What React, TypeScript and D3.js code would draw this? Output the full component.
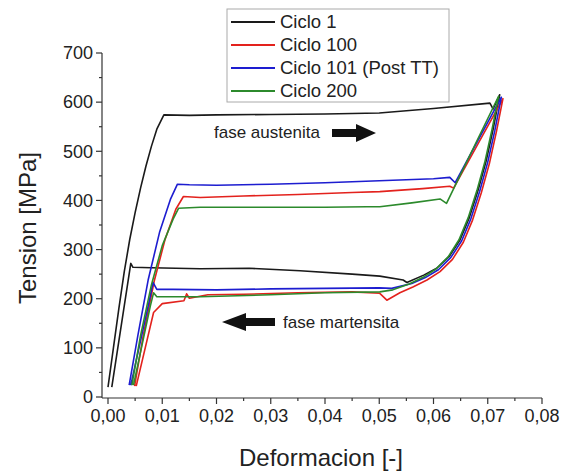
import React from "react";
import * as d3 from "d3";

type Pt = [number, number];

const seriesNames = ["Ciclo 1", "Ciclo 100", "Ciclo 101 (Post TT)", "Ciclo 200"];
const seriesColors = ["#1a1a1a", "#e3221d", "#1d1dd0", "#2c8a2c"];

const xTicks = [0, 0.01, 0.02, 0.03, 0.04, 0.05, 0.06, 0.07, 0.08];
const yTicks = [0, 100, 200, 300, 400, 500, 600, 700];

// Ciclo 1 (black): [strain, stress MPa]
const ciclo1: Pt[] = [
  [0.0, 20], [0.001, 100], [0.002, 180], [0.003, 255], [0.004, 320], [0.005, 375],
  [0.006, 425], [0.007, 470], [0.008, 510], [0.009, 545], [0.0103, 574],
  [0.015, 573], [0.02, 574], [0.03, 575], [0.04, 576], [0.05, 578], [0.06, 587],
  [0.0704, 598], [0.071, 586], [0.0722, 615],
  [0.071, 545], [0.0697, 480], [0.0682, 420], [0.0666, 365], [0.0649, 320],
  [0.0629, 286], [0.0606, 262], [0.0582, 248], [0.0551, 233],
  [0.0544, 238], [0.0501, 246], [0.045, 250], [0.0354, 257], [0.026, 262],
  [0.017, 261], [0.008, 263], [0.0046, 264], [0.0042, 272], [0.0007, 20],
];

// Ciclo 100 (red)
const ciclo100: Pt[] = [
  [0.0049, 22], [0.0065, 125], [0.0085, 235], [0.0105, 320], [0.0125, 382], [0.0139, 408],
  [0.017, 406], [0.025, 409], [0.035, 412], [0.045, 416], [0.0501, 418], [0.058, 424],
  [0.063, 429], [0.0637, 425], [0.0728, 607],
  [0.0716, 540], [0.0703, 475], [0.0688, 415], [0.0672, 360], [0.0655, 315], [0.0635, 280],
  [0.0612, 255], [0.0588, 238], [0.0562, 224], [0.0538, 212], [0.0514, 197],
  [0.0501, 211], [0.045, 214], [0.035, 212], [0.025, 209], [0.0184, 208], [0.015, 201],
  [0.0145, 210], [0.014, 196], [0.01, 190], [0.0084, 172], [0.0052, 22],
];

// Ciclo 101 (Post TT) (blue)
const ciclo101: Pt[] = [
  [0.0039, 24], [0.0055, 125], [0.0074, 238], [0.0095, 335], [0.0115, 402], [0.0128, 433],
  [0.015, 432], [0.02, 431], [0.03, 433], [0.04, 436], [0.05, 440], [0.06, 444],
  [0.063, 447], [0.064, 436], [0.0725, 610],
  [0.0713, 542], [0.07, 478], [0.0685, 418], [0.0669, 363], [0.0652, 318], [0.0632, 284],
  [0.0609, 259], [0.0585, 243], [0.056, 231], [0.0523, 221],
  [0.05, 222], [0.04, 221], [0.03, 220], [0.02, 218], [0.012, 219], [0.009, 219],
  [0.0083, 233], [0.0075, 190], [0.0042, 24],
];

// Ciclo 200 (green)
const ciclo200: Pt[] = [
  [0.0044, 24], [0.006, 125], [0.008, 228], [0.01, 308], [0.012, 362], [0.013, 384],
  [0.017, 386], [0.03, 386], [0.04, 386], [0.0477, 387], [0.0501, 387], [0.056, 395],
  [0.0612, 403], [0.0624, 394], [0.072, 612],
  [0.0708, 545], [0.0695, 480], [0.068, 420], [0.0664, 365], [0.0647, 320], [0.0627, 285],
  [0.0604, 260], [0.058, 243], [0.0555, 230], [0.0525, 218],
  [0.0501, 214], [0.04, 212], [0.03, 208], [0.017, 204], [0.01, 204], [0.009, 204],
  [0.0084, 212], [0.0078, 185], [0.0047, 24],
];

const seriesData = [ciclo1, ciclo100, ciclo101, ciclo200];

const W = 561;
const H = 471;
const FONT = "'Liberation Sans', Arial, sans-serif";

export default function App() {
  const x = d3.scaleLinear().domain([0, 0.08]).range([108, 542]);
  const y = d3.scaleLinear().domain([0, 700]).range([397, 53]);
  const line = d3
    .line<Pt>()
    .x((d) => x(d[0]))
    .y((d) => y(d[1]));

  const axisColor = "#333";
  const axisX = 102;
  const axisY = 398;
  const xMinor = d3.range(0, 0.0801, 0.005).filter((v, i) => i % 2 === 1);
  const yMinor = d3.range(50, 700, 100);
  const fmt = (v: number) => d3.format(".2f")(v).replace(".", ",");

  const legendX = 227;
  const legendY = 9;
  const legendRows = [22, 45, 68, 91];

  return (
    <svg
      width={W}
      height={H}
      style={{ position: "absolute", left: 0, top: 0, background: "#fff" }}
      fontFamily={FONT}
    >
      <rect x={0} y={0} width={W} height={H} fill="#fff" />
      {/* axes */}
      <line x1={axisX} y1={y(700)} x2={axisX} y2={axisY} stroke={axisColor} strokeWidth={1.2} />
      <line x1={axisX} y1={axisY} x2={x(0.08)} y2={axisY} stroke={axisColor} strokeWidth={1.2} />
      {yTicks.map((t) => (
        <g key={"yt" + t}>
          <line x1={axisX - 6} x2={axisX} y1={y(t)} y2={y(t)} stroke={axisColor} strokeWidth={1.2} />
          <text x={axisX - 9} y={y(t)} dy="0.35em" textAnchor="end" fontSize={18} fill="#222">
            {t}
          </text>
        </g>
      ))}
      {yMinor.map((t) => (
        <line key={"ym" + t} x1={axisX - 3} x2={axisX} y1={y(t)} y2={y(t)} stroke={axisColor} strokeWidth={1.2} />
      ))}
      {xTicks.map((t) => (
        <g key={"xt" + t}>
          <line x1={x(t)} x2={x(t)} y1={axisY} y2={axisY + 6} stroke={axisColor} strokeWidth={1.2} />
          <text x={x(t)} y={axisY + 24} textAnchor="middle" fontSize={18} fill="#222">
            {fmt(t)}
          </text>
        </g>
      ))}
      {xMinor.map((t) => (
        <line key={"xm" + t} x1={x(t)} x2={x(t)} y1={axisY} y2={axisY + 3} stroke={axisColor} strokeWidth={1.2} />
      ))}
      {/* axis titles */}
      <text x={321} y={466} textAnchor="middle" fontSize={24} fill="#222">
        Deformacion [-]
      </text>
      <text
        transform={`translate(36, 228) rotate(-90)`}
        textAnchor="middle"
        fontSize={24}
        fill="#222"
      >
        Tension [MPa]
      </text>

      {/* series */}
      {seriesData.map((d, i) => (
        <path
          key={"s" + i}
          d={line(d) || ""}
          fill="none"
          stroke={seriesColors[i]}
          strokeWidth={1.6}
          strokeLinejoin="round"
        />
      ))}

      {/* annotations */}
      <text x={214} y={138} fontSize={17} fill="#222">
        fase austenita
      </text>
      <path d="M332,129 L356,129 L356,124 L376,133 L356,142 L356,137 L332,137 Z" fill="#111" />
      <text x={283} y={328} fontSize={17} fill="#222">
        fase martensita
      </text>
      <path d="M275,318 L246,318 L246,313 L222,322 L246,331 L246,326 L275,326 Z" fill="#111" />

      {/* legend */}
      <rect x={legendX} y={legendY} width={222} height={93} fill="#fff" stroke="#aaa" strokeWidth={1} />
      {seriesNames.map((n, i) => (
        <g key={"lg" + i}>
          <line x1={231} x2={275} y1={legendRows[i]} y2={legendRows[i]} stroke={seriesColors[i]} strokeWidth={1.8} />
          <text x={280} y={legendRows[i]} dy="0.35em" fontSize={18.5} fill="#222">
            {n}
          </text>
        </g>
      ))}
    </svg>
  );
}
